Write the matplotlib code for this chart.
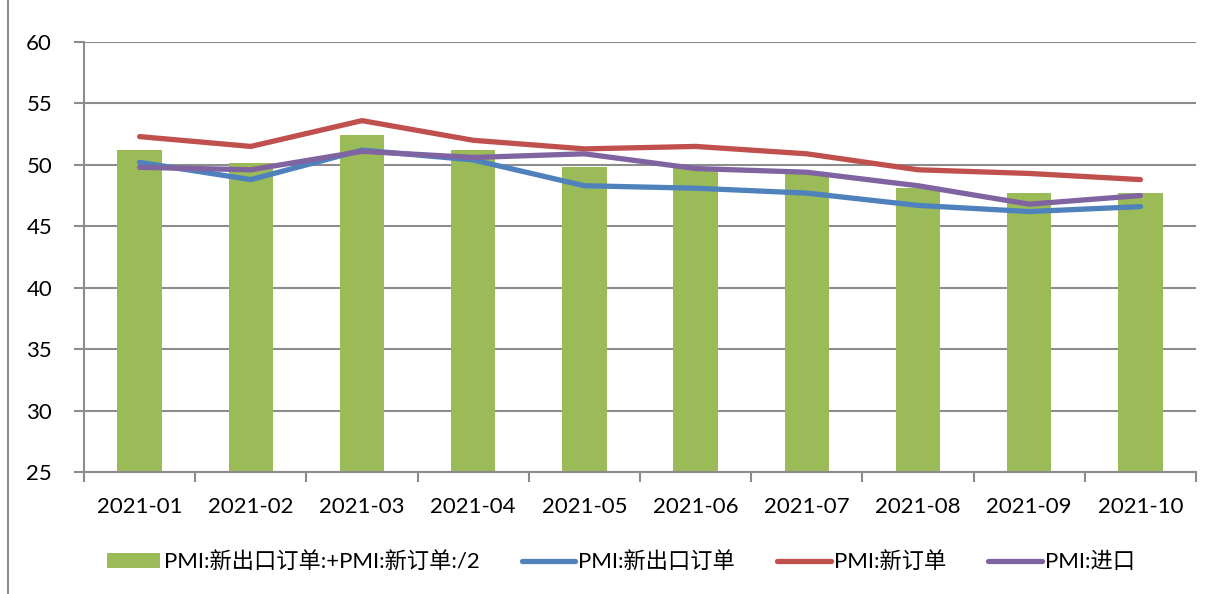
import numpy as np
import matplotlib.pyplot as plt
from matplotlib.lines import Line2D

plt.rcParams['font.family'] = ['Lato', 'Noto Sans CJK SC', 'DejaVu Sans']

months = ['2021-01', '2021-02', '2021-03', '2021-04', '2021-05',
          '2021-06', '2021-07', '2021-08', '2021-09', '2021-10']
export_orders = [50.2, 48.8, 51.2, 50.4, 48.3, 48.1, 47.7, 46.7, 46.2, 46.6]
new_orders = [52.3, 51.5, 53.6, 52.0, 51.3, 51.5, 50.9, 49.6, 49.3, 48.8]
imports = [49.8, 49.6, 51.1, 50.6, 50.9, 49.7, 49.4, 48.3, 46.8, 47.5]
avg_orders = [51.25, 50.15, 52.4, 51.2, 49.8, 49.8, 49.3, 48.15, 47.75, 47.7]

grid_c = '#8c8c8c'

fig = plt.figure(figsize=(12.18, 5.94), dpi=100)
ax = fig.add_axes([84 / 1218, 1 - 472 / 594, 1112 / 1218, 430 / 594])

x = np.arange(len(months))
bars = ax.bar(x, avg_orders, width=0.4, color='#9BBB59', zorder=2,
              label='PMI:新出口订单:+PMI:新订单:/2')
l1, = ax.plot(x, export_orders, color='#4F81BD', lw=3.8, zorder=3,
              solid_capstyle='round', label='PMI:新出口订单')
l2, = ax.plot(x, new_orders, color='#C0504D', lw=3.8, zorder=3,
              solid_capstyle='round', label='PMI:新订单')
l3, = ax.plot(x, imports, color='#8064A2', lw=3.8, zorder=3,
              solid_capstyle='round', label='PMI:进口')

ax.set_ylim(25, 60)
ax.set_yticks(range(25, 61, 5))
ax.set_xlim(-0.5, len(months) - 0.5)
ax.set_xticks(x)
ax.set_xticklabels(months)
ax.set_xticks(np.arange(-0.5, len(months)), minor=True)
ax.yaxis.grid(True, color=grid_c, lw=1.5, zorder=0)
ax.set_axisbelow(True)

for s in ['top', 'right']:
    ax.spines[s].set_visible(False)
for s in ['left', 'bottom']:
    ax.spines[s].set_color(grid_c)
    ax.spines[s].set_linewidth(1.5)

ax.tick_params(axis='x', which='major', length=0, pad=18, labelsize=16)
ax.tick_params(axis='x', which='minor', length=7, width=1.5, color=grid_c)
ax.tick_params(axis='y', length=7, width=1.5, color=grid_c, pad=16, labelsize=16)

fig.legend(handles=[bars, l1, l2, l3], loc='center',
           bbox_to_anchor=(0.5 + 12 / 1218, 1 - 562 / 594), ncol=4,
           frameon=False, fontsize=16, handlelength=2.4, handleheight=0.63,
           handletextpad=0.15, columnspacing=1.9)

fig.add_artist(Line2D([8 / 1218, 8 / 1218], [0, 1], color=grid_c, lw=1.5))

fig.savefig('out.png', dpi=100)
